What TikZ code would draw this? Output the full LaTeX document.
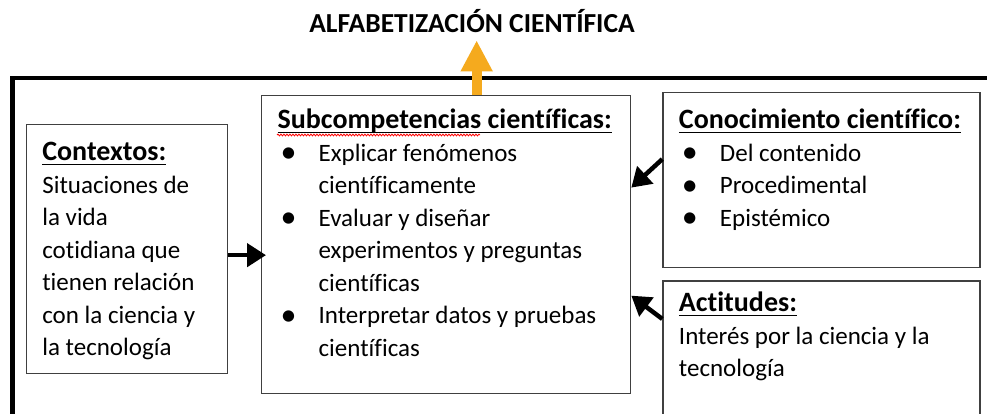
\documentclass[tikz,border=0pt]{standalone}
\usepackage{fontspec}
\setmainfont{Carlito}[Ligatures=NoCommon]
\usetikzlibrary{positioning,arrows.meta,calc,decorations.pathmorphing}

\definecolor{naranja}{RGB}{245,170,30}
\definecolor{borde}{RGB}{64,64,64}

\newlength{\anchoenc}
\newcommand{\encabezado}[1]{{\fontsize{28}{32.5}\selectfont\settowidth{\anchoenc}{\textbf{#1}}\rlap{\rule[-4.5pt]{\anchoenc}{1.4pt}}\textbf{#1}}}
\newcommand{\vineta}{\hspace*{3pt}\makebox[38pt][l]{\raisebox{-1.5pt}{\fontsize{32}{32}\selectfont\textbullet}}}
\newcommand{\sigue}{\hspace*{41pt}}
% ancho, alto, primera linea, texto
\newcommand{\cajatexto}[4]{\parbox[t][#2][t]{#1}{\raggedright\rule{0pt}{#3}#4}}

\tikzset{
	caja/.style={draw=borde, line width=1.3pt, inner xsep=16pt, inner ysep=0pt,
		font=\fontsize{25}{32.5}\selectfont},
	flecha/.style={line width=4.5pt, -{Triangle[length=19pt,width=23pt]}},
}

\begin{document}
\begin{tikzpicture}[x=1pt, y=-1pt]
	\useasboundingbox (0,0) rectangle (987,414);
	
	\node[anchor=base, inner sep=0pt, font=\fontsize{27.5}{30}\selectfont\bfseries] (T) at (472,33) {ALFABETIZACIÓN CIENTÍFICA};
	
	\draw[line width=4.5pt] (12.5,414) |- (987,78);
	
	\node[caja, anchor=north west] (S) at (261,95) {\cajatexto{337pt}{298pt}{33pt}{%
		\encabezado{Subcompetencias científicas:}\\
		\vineta Explicar fenómenos\\
		\sigue científicamente\\
		\vineta Evaluar y diseñar\\
		\sigue experimentos y preguntas\\
		\sigue científicas\\
		\vineta Interpretar datos y pruebas\\
		\sigue científicas}};
	\node[caja, below left=29pt and 33pt of S.north west] (C) {\cajatexto{169pt}{249pt}{36pt}{%
		\encabezado{Contextos:}\\
		Situaciones de\\
		la vida\\
		cotidiana que\\
		tienen relación\\
		con la ciencia y\\
		la tecnología}};
	\node[caja, right=31pt of S.north east, anchor=north west, yshift=3pt] (K) {\cajatexto{285pt}{175pt}{36pt}{%
		\encabezado{Conocimiento científico:}\\
		\vineta Del contenido\\
		\vineta Procedimental\\
		\vineta Epistémico}};
	\node[caja, below=12pt of K.south west, anchor=north west] (A) {\cajatexto{285pt}{134pt}{31pt}{%
		\encabezado{Actitudes:}\\
		Interés por la ciencia y la\\
		tecnología}};
	
	\draw[red, line width=0.8pt, decorate, decoration={snake, amplitude=0.9pt, segment length=3pt}]
		($(S.north west)+(16,40)$) -- ++(203,0);
	
	\draw[naranja, line width=10pt, -{Triangle[length=31pt,width=30pt]}, shorten >=7pt]
		([xshift=30.5pt]S.north) -- ([xshift=30.5pt]S.north |- T.south);
	\draw[flecha, shorten >=-5pt] ([yshift=-6pt]C.east) -- ([yshift=-6pt]C.east -| S.west);
	\draw[flecha] ([yshift=21pt]K.west) -- ([yshift=57pt]S.east);
	\draw[flecha] ([yshift=29pt]A.west) -- ([yshift=-51pt]S.east);
	
\end{tikzpicture}
\end{document}
